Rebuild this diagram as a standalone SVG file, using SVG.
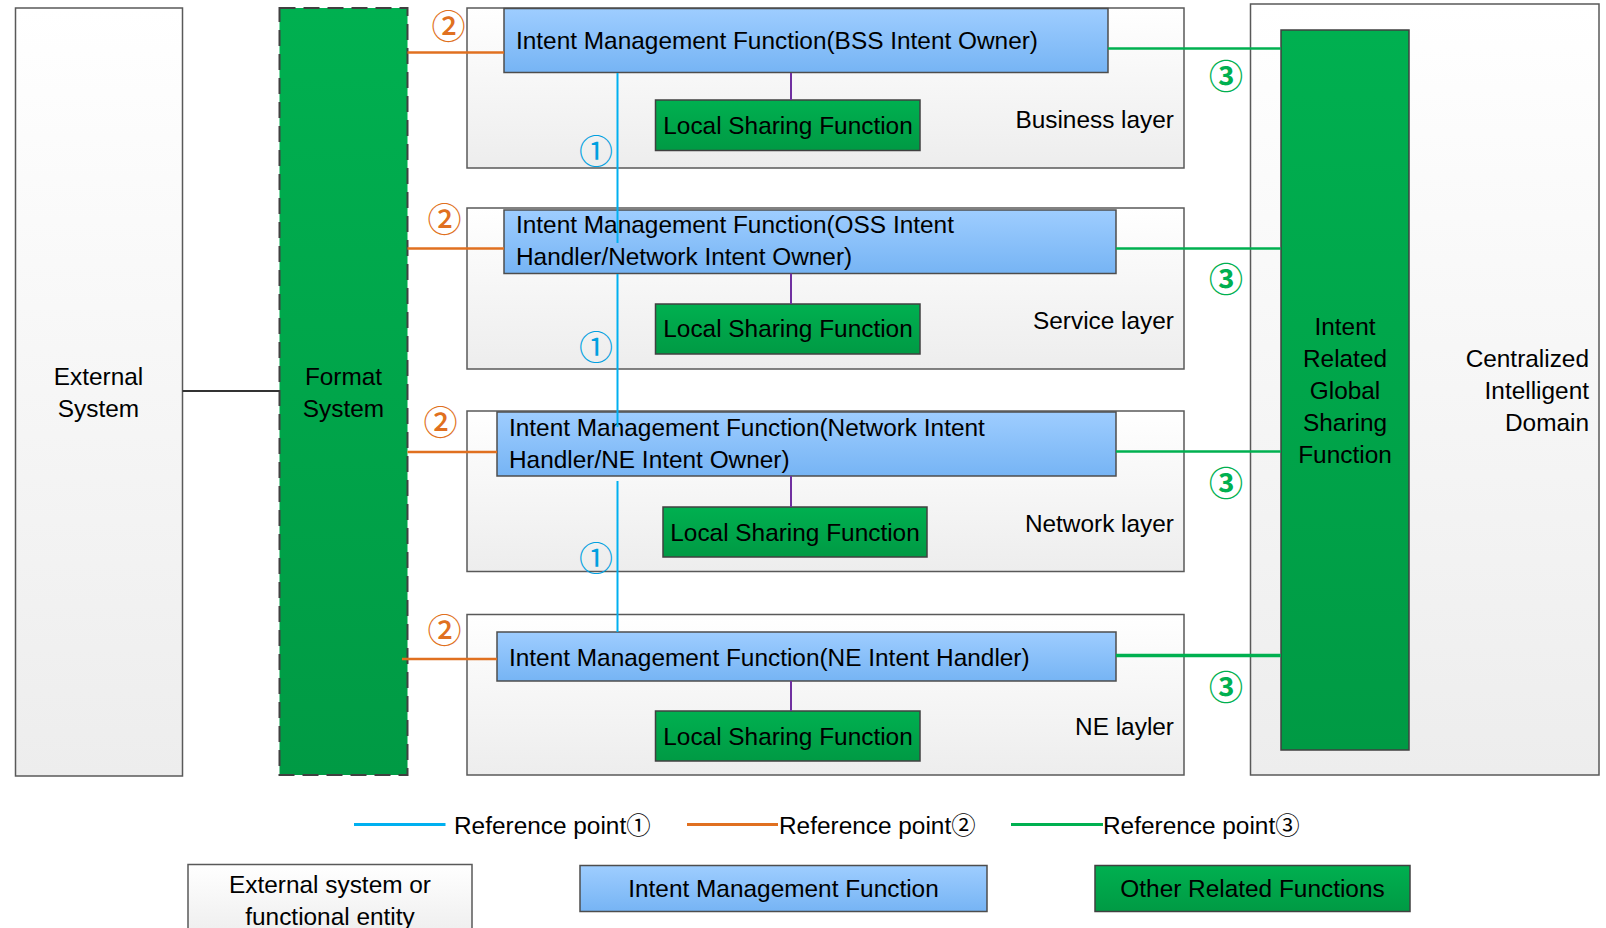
<svg xmlns="http://www.w3.org/2000/svg" width="1606" height="928" viewBox="0 0 1606 928">
<defs>
<linearGradient id="gGray" x1="0" y1="0" x2="0" y2="1"><stop offset="0" stop-color="#ffffff"/><stop offset="1" stop-color="#ededed"/></linearGradient>
<linearGradient id="gBlue" x1="0" y1="0" x2="0" y2="1"><stop offset="0" stop-color="#9ecdff"/><stop offset="1" stop-color="#76b4f4"/></linearGradient>
<linearGradient id="gGreen" x1="0" y1="0" x2="0" y2="1"><stop offset="0" stop-color="#00b050"/><stop offset="1" stop-color="#009a44"/></linearGradient>
</defs>
<style>
text{font-family:"Liberation Sans",Arial,"Noto Sans CJK SC",sans-serif;font-size:24.4px;fill:#000}
.mid{text-anchor:middle}
.end{text-anchor:end}
.gray{fill:url(#gGray);stroke:#595959;stroke-width:1.5}
.imf{fill:url(#gBlue);stroke:#4d4d4d;stroke-width:1.5}
.grn{fill:url(#gGreen);stroke:#404040;stroke-width:1.5}
.fmt{fill:url(#gGreen);stroke:#404040;stroke-width:2;stroke-dasharray:16 8}
.c1{stroke:#00b0f0;stroke-width:2;fill:none}
.c2{stroke:#e07020;stroke-width:2.5;fill:none}
.c3{stroke:#00b050;stroke-width:2.5;fill:none}
.cp{stroke:#7030a0;stroke-width:2;fill:none}
.ck{stroke:#333;stroke-width:2;fill:none}
.n{font-family:"Noto Sans CJK SC","DejaVu Sans",sans-serif;font-size:34px;text-anchor:middle}
.n1{fill:#00a0e0}
.n2{fill:#e07020;font-weight:500}
.n3{fill:#00b050;font-weight:bold}
.lg{font-family:"Liberation Sans","Noto Sans CJK SC",sans-serif}
</style>

<g id="external-system"><rect class="gray" x="15.5" y="8" width="167" height="768"/><text class="mid" x="98.5" y="385">External</text><text class="mid" x="98.5" y="417">System</text></g>
<g id="format-system"><rect class="fmt" x="279.5" y="8" width="128" height="767"/><text class="mid" x="343.5" y="385">Format</text><text class="mid" x="343.5" y="417">System</text></g>

<g id="business-layer"><rect class="gray" x="467" y="8" width="717" height="160"/><text class="end" x="1174" y="128">Business layer</text></g>
<g id="service-layer"><rect class="gray" x="467" y="208" width="717" height="161"/><text class="end" x="1174" y="329">Service layer</text></g>
<g id="network-layer"><rect class="gray" x="467" y="411" width="717" height="160.5"/><text class="end" x="1174" y="532">Network layer</text></g>
<g id="ne-layer"><rect class="gray" x="467" y="614.5" width="717" height="160.5"/><text class="end" x="1174" y="735">NE layler</text></g>

<g id="centralized-domain"><rect class="gray" x="1250.5" y="4" width="348.5" height="771"/><text class="end" x="1589" y="367">Centralized</text><text class="end" x="1589" y="399">Intelligent</text><text class="end" x="1589" y="431">Domain</text></g>
<g id="global-sharing"><rect class="grn" x="1281" y="30" width="128" height="720"/><text class="mid" x="1345" y="335">Intent</text><text class="mid" x="1345" y="367">Related</text><text class="mid" x="1345" y="399">Global</text><text class="mid" x="1345" y="431">Sharing</text><text class="mid" x="1345" y="463">Function</text></g>

<g id="imf-bss"><rect class="imf" x="504" y="8.5" width="604" height="64"/><text x="516" y="49">Intent Management Function(BSS Intent Owner)</text></g>
<g id="lsf-1"><rect class="grn" x="655.5" y="100" width="264.5" height="50.5"/><text class="mid" x="788" y="134">Local Sharing Function</text></g>

<g id="imf-oss"><rect class="imf" x="504" y="210" width="612" height="63.5"/><text x="516" y="233">Intent Management Function(OSS Intent</text><text x="516" y="265">Handler/Network Intent Owner)</text></g>
<g id="lsf-2"><rect class="grn" x="655.5" y="304" width="264.5" height="50"/><text class="mid" x="788" y="337">Local Sharing Function</text></g>

<g id="imf-network"><rect class="imf" x="497" y="412" width="619" height="64"/><text x="509" y="436">Intent Management Function(Network Intent</text><text x="509" y="468">Handler/NE Intent Owner)</text></g>
<g id="lsf-3"><rect class="grn" x="663" y="507" width="264" height="50"/><text class="mid" x="795" y="541">Local Sharing Function</text></g>

<g id="imf-ne"><rect class="imf" x="497" y="632" width="619" height="49"/><text x="509" y="666">Intent Management Function(NE Intent Handler)</text></g>
<g id="lsf-4"><rect class="grn" x="655.5" y="711" width="264.5" height="50"/><text class="mid" x="788" y="745">Local Sharing Function</text></g>

<g id="connectors">
<line class="ck" x1="182.5" y1="391" x2="279.5" y2="391"/>
<line class="c2" x1="407.5" y1="52.5" x2="504" y2="52.5"/>
<line class="c2" x1="407.5" y1="248.5" x2="504" y2="248.5"/>
<line class="c2" x1="407.5" y1="452" x2="497" y2="452"/>
<line class="c2" x1="402" y1="659" x2="497" y2="659"/>
<line class="c3" x1="1108" y1="48.5" x2="1281" y2="48.5"/>
<line class="c3" x1="1116" y1="248.5" x2="1281" y2="248.5"/>
<line class="c3" x1="1116" y1="451.5" x2="1281" y2="451.5"/>
<line class="c3" x1="1116" y1="655.5" x2="1281" y2="655.5" style="stroke-width:3.5"/>
<line class="cp" x1="791" y1="73" x2="791" y2="100"/>
<line class="cp" x1="791" y1="273.5" x2="791" y2="304"/>
<line class="cp" x1="791" y1="476" x2="791" y2="507"/>
<line class="cp" x1="791" y1="681" x2="791" y2="711"/>
<line class="c1" x1="617.5" y1="73" x2="617.5" y2="243"/>
<line class="c1" x1="617.5" y1="274" x2="617.5" y2="427"/>
<line class="c1" x1="617.5" y1="481" x2="617.5" y2="632"/>
</g>

<g id="labels">
<text class="n n2" x="448.5" y="38.5">②</text>
<text class="n n2" x="444.5" y="231.5">②</text>
<text class="n n2" x="440.5" y="434.5">②</text>
<text class="n n2" x="444.5" y="642.5">②</text>
<text class="n n1" x="596" y="164">①</text>
<text class="n n1" x="596" y="359.5">①</text>
<text class="n n1" x="596" y="570.5">①</text>
<text class="n n3" x="1226" y="88.5">③</text>
<text class="n n3" x="1226" y="292">③</text>
<text class="n n3" x="1226" y="496">③</text>
<text class="n n3" x="1226" y="699.5">③</text>
</g>

<g id="legend">
<line class="c1" x1="354" y1="824.5" x2="445.5" y2="824.5" style="stroke-width:3"/>
<text class="lg" x="454" y="834">Reference point①</text>
<line class="c2" x1="687" y1="824.5" x2="778" y2="824.5" style="stroke-width:3"/>
<text class="lg" x="779" y="834">Reference point②</text>
<line class="c3" x1="1011" y1="824.5" x2="1103" y2="824.5" style="stroke-width:3"/>
<text class="lg" x="1103" y="834">Reference point③</text>
<g id="legend-external"><rect class="gray" x="188" y="864.5" width="284" height="75"/><text class="mid" x="330" y="893">External system or</text><text class="mid" x="330" y="925">functional entity</text></g>
<g id="legend-imf"><rect class="imf" x="580" y="865.5" width="407" height="46"/><text class="mid" x="783.5" y="897">Intent Management Function</text></g>
<g id="legend-other"><rect class="grn" x="1095" y="865.5" width="315" height="46"/><text class="mid" x="1252.5" y="897">Other Related Functions</text></g>
</g>
</svg>
